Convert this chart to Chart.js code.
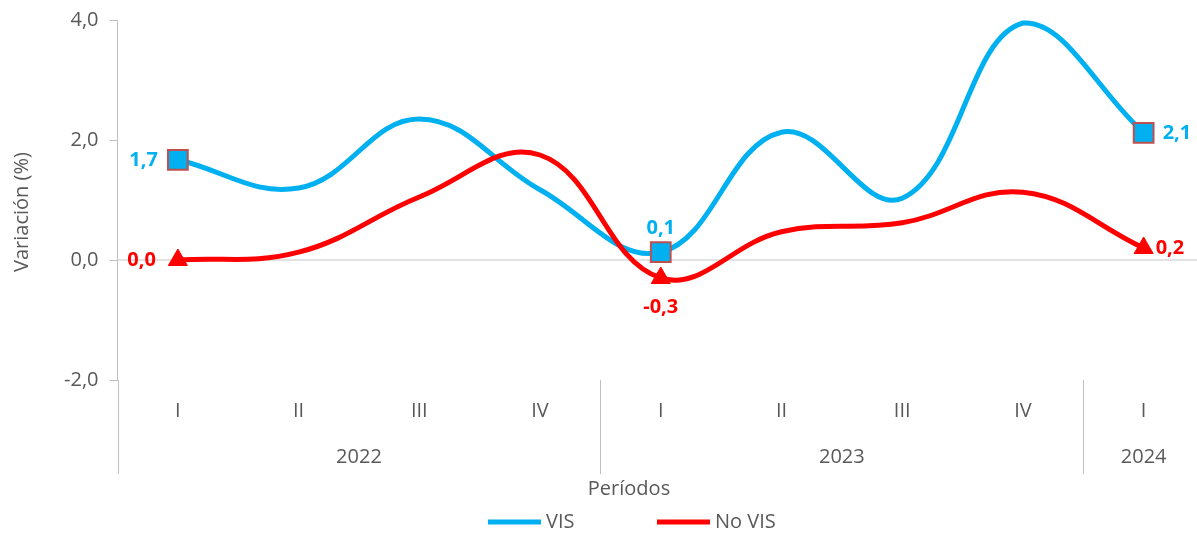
<!DOCTYPE html>
<html>
<head>
<meta charset="utf-8">
<script src="https://cdn.jsdelivr.net/npm/chart.js@4/dist/chart.umd.min.js"></script>
<style>
  html, body { margin: 0; padding: 0; background: #fff; overflow: hidden; }
  #wrap { width: 1220px; height: 533px; }
</style>
</head>
<body>
<div id="wrap"><canvas id="chart" width="1220" height="533"></canvas></div>
<script>
// data
const quarters = ['I', 'II', 'III', 'IV', 'I', 'II', 'III', 'IV', 'I'];
const years = ['2022', '2023', '2024'];
const quartersPerYear = [4, 4, 1];
const vis = [1.67, 1.2, 2.35, 1.17, 0.13, 2.13, 1.03, 3.95, 2.12];
const noVis = [0.0, 0.13, 1.05, 1.75, -0.3, 0.47, 0.62, 1.13, 0.2];
const yTicks = [-2, 0, 2, 4];
const labeledPoints = [0, 4, 8];

const FONT = "'Open Sans', 'Noto Sans', sans-serif";
const GREY_TXT = '#595959';
const AXIS = '#bfbfbf';
const BLUE = '#00B0F0';
const RED = '#FF0000';

Chart.defaults.font.family = FONT;
Chart.defaults.font.size = 20;
Chart.defaults.color = GREY_TXT;

const fmt = v => v.toFixed(1).replace('.', ',');
const radii = (r) => quarters.map((q, i) => labeledPoints.includes(i) ? r : 0);

// extra drawing: zero line, group separators, years, titles, legend, data labels
const decor = {
  id: 'decor',
  beforeDatasetsDraw(chart) {
    const { ctx, chartArea, scales } = chart;
    const y0 = scales.y.getPixelForValue(0);
    ctx.save();
    ctx.strokeStyle = '#d9d9d9';
    ctx.lineWidth = 1.5;
    ctx.beginPath();
    ctx.moveTo(chartArea.left, y0);
    ctx.lineTo(chartArea.right, y0);
    ctx.stroke();
    ctx.restore();
  },
  afterDraw(chart) {
    const { ctx, chartArea, scales } = chart;
    const x = scales.x;
    const bottom = 474;
    const axX = Math.round(chartArea.left) + 0.5;
    ctx.save();
    ctx.strokeStyle = AXIS;
    ctx.lineWidth = 1;
    ctx.beginPath();
    ctx.moveTo(axX, chartArea.bottom);
    ctx.lineTo(axX, bottom);
    ctx.stroke();

    // year groups
    ctx.fillStyle = GREY_TXT;
    ctx.font = '20px ' + FONT;
    ctx.textAlign = 'center';
    ctx.textBaseline = 'middle';
    let start = 0;
    years.forEach((yr, k) => {
      const end = start + quartersPerYear[k] - 1;
      const cx = (x.getPixelForValue(start) + x.getPixelForValue(end)) / 2;
      ctx.fillText(yr, cx, 457);
      if (k < years.length - 1) {
        const sx = Math.round((x.getPixelForValue(end) + x.getPixelForValue(end + 1)) / 2) + 0.5;
        ctx.beginPath();
        ctx.moveTo(sx, chartArea.bottom);
        ctx.lineTo(sx, bottom);
        ctx.stroke();
      }
      start = end + 1;
    });

    // axis titles
    ctx.fillText('Períodos', 629, 489);
    ctx.save();
    ctx.translate(22, 212);
    ctx.rotate(-Math.PI / 2);
    ctx.fillText('Variación (%)', 0, 0);
    ctx.restore();

    // legend
    const legend = [['VIS', BLUE, 488], ['No VIS', RED, 657]];
    ctx.textAlign = 'left';
    legend.forEach(([name, col, lx]) => {
      ctx.strokeStyle = col;
      ctx.lineWidth = 5;
      ctx.beginPath();
      ctx.moveTo(lx, 522);
      ctx.lineTo(lx + 53, 522);
      ctx.stroke();
      ctx.fillStyle = GREY_TXT;
      ctx.fillText(name, lx + 58, 522);
    });

    // data labels
    ctx.font = 'bold 20px ' + FONT;
    const place = [
      { ds: 0, col: BLUE, offs: [[-20, 0, 'right'], [0, -24, 'center'], [19, 0, 'left']] },
      { ds: 1, col: RED, offs: [[-22, 0, 'right'], [0, 29, 'center'], [12, 0, 'left']] }
    ];
    place.forEach(p => {
      const meta = chart.getDatasetMeta(p.ds);
      const vals = chart.data.datasets[p.ds].data;
      ctx.fillStyle = p.col;
      labeledPoints.forEach((idx, j) => {
        const pt = meta.data[idx];
        const [dx, dy, al] = p.offs[j];
        ctx.textAlign = al;
        ctx.fillText(fmt(vals[idx]), pt.x + dx, pt.y + dy);
      });
    });
    ctx.restore();
  }
};

new Chart(document.getElementById('chart'), {
  type: 'line',
  data: {
    labels: quarters,
    datasets: [
      {
        label: 'VIS',
        data: vis,
        borderColor: BLUE,
        borderWidth: 5,
        tension: 0.4,
        pointStyle: 'rect',
        pointRadius: radii(14),
        pointBackgroundColor: BLUE,
        pointBorderColor: '#C0504D',
        pointBorderWidth: 2,
        order: 1
      },
      {
        label: 'No VIS',
        data: noVis,
        borderColor: RED,
        borderWidth: 5,
        tension: 0.4,
        pointStyle: 'triangle',
        pointRadius: radii(11),
        pointBackgroundColor: RED,
        pointBorderColor: RED,
        pointBorderWidth: 1,
        order: 0
      }
    ]
  },
  options: {
    responsive: false,
    animation: false,
    events: [],
    layout: { padding: { top: 20, right: 13.5, left: 0, bottom: 0 } },
    plugins: {
      legend: { display: false },
      tooltip: { enabled: false }
    },
    scales: {
      x: {
        offset: true,
        grid: { display: false, drawTicks: false },
        border: { display: false },
        ticks: { color: GREY_TXT, font: { size: 20 }, padding: 19, maxRotation: 0, autoSkip: false },
        afterFit: s => { s.height = 153; s.paddingLeft = 0; s.paddingRight = 0; }
      },
      y: {
        min: yTicks[0],
        max: yTicks[yTicks.length - 1],
        afterBuildTicks: s => { s.ticks = yTicks.map(v => ({ value: v })); },
        ticks: { color: GREY_TXT, font: { size: 20 }, padding: 11, callback: v => fmt(v) },
        grid: { drawOnChartArea: false, drawTicks: true, tickLength: 8, color: AXIS },
        border: { display: true, color: AXIS },
        afterFit: s => { s.width = 117.5; s.paddingTop = 0; s.paddingBottom = 0; }
      }
    }
  },
  plugins: [decor]
});
</script>
</body>
</html>
